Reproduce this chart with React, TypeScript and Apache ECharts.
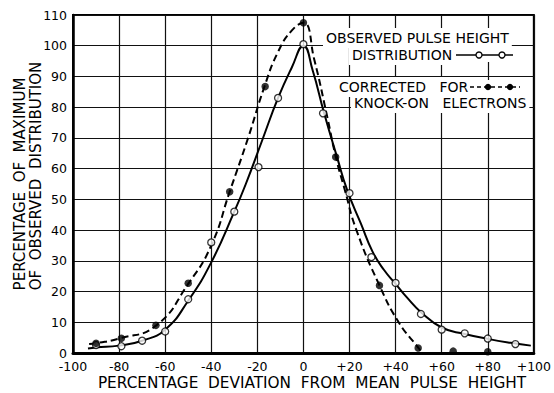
import React, { useEffect, useRef } from "react";
import * as echarts from "echarts";

// Observed pulse height distribution (open circles)
const observedX = [-90, -79, -70, -60, -50, -40, -30, -19.5, -11, 0, 8.5, 20, 29.5, 40, 51, 60, 70, 80, 92];
const observedY = [2.6, 2.2, 4, 7, 17.5, 36, 46, 60.5, 83, 100.5, 78, 52, 31.2, 22.8, 12.7, 7.6, 6.4, 4.7, 2.9];

// Corrected for knock-on electrons (filled circles)
const correctedX = [-90, -79, -64, -50, -32, -16.6, 0, 14, 33, 49.8, 65, 80];
const correctedY = [3.2, 4.8, 9, 22.7, 52.5, 86.7, 107.5, 63.8, 22, 1.6, 0.6, 0.4];

// Smooth solid curve (observed)
const solidCurveX = [-93.5, -90, -80, -70, -60, -50, -40, -30, -25, -18, -11, -5, 0, 4, 9, 14.5, 19, 25, 30, 35, 40, 45, 51, 60, 70, 80, 90, 98.7];
const solidCurveY = [1.5, 1.8, 2.4, 4, 7.6, 17, 29.5, 46, 55, 69, 83, 93, 100, 92, 78, 64, 53, 42, 33, 27, 22.5, 18, 13.3, 8.3, 6.2, 4.6, 3.3, 2.4];

// Dashed curve (corrected)
const dashedCurveX = [-93, -90, -80, -64, -50, -40, -32, -24, -17, -11, -5, 0, 4.7, 10.3, 14, 18, 23, 33, 41.6, 50, 51.5];
const dashedCurveY = [2.9, 3.2, 4.7, 8.9, 22.5, 35, 52.5, 70, 86.5, 98, 105, 107.5, 95.5, 77, 64, 53, 40, 22, 9.7, 1.6, 0];

const xTickLabels = ["-100", "-80", "-60", "-40", "-20", "0", "+20", "+40", "+60", "+80", "+100"];

const FONT = '"DejaVu Sans", sans-serif';

const zip = (xs: number[], ys: number[]) => xs.map((x, i) => [x, ys[i]]);

export default function App() {
  const ref = useRef<HTMLDivElement>(null);
  useEffect(() => {
    if (!ref.current) return;
    const chart = echarts.init(ref.current, undefined, { renderer: "svg" });
    const legendText = (text: string, x: number, y: number) => ({
      type: "text",
      z: 50,
      style: {
        text,
        x,
        y,
        font: `14px ${FONT}`,
        fill: "#000",
        align: "left",
        verticalAlign: "middle",
        backgroundColor: "#fff",
        padding: [3, 3],
      },
    });
    chart.setOption({
      animation: false,
      backgroundColor: "#fff",
      grid: {
        left: 73,
        right: 11,
        top: 15,
        bottom: 40,
        show: true,
        borderColor: "#000",
        borderWidth: 2,
      },
      xAxis: {
        type: "value",
        min: -100,
        max: 100,
        interval: 20,
        axisLine: { show: true, onZero: false, lineStyle: { color: "#000", width: 3 } },
        axisTick: { show: false },
        splitLine: { show: true, lineStyle: { color: "#111", width: 1.2 } },
        axisLabel: {
          color: "#000",
          fontSize: 12.5,
          fontFamily: FONT,
          margin: 7,
          lineHeight: 13,
          formatter: (v: number) => xTickLabels[Math.round((v + 100) / 20)] ?? String(v),
        },
      },
      yAxis: {
        type: "value",
        min: 0,
        max: 110,
        interval: 10,
        axisLine: { show: true, onZero: false, lineStyle: { color: "#000", width: 2.5 } },
        axisTick: { show: false },
        splitLine: { show: true, lineStyle: { color: "#111", width: 1.2 } },
        axisLabel: { color: "#000", fontSize: 12.5, fontFamily: FONT, margin: 6, lineHeight: 12 },
      },
      graphic: [
        legendText("OBSERVED PULSE HEIGHT", 323, 38),
        legendText("DISTRIBUTION", 349, 55),
        { type: "rect", z: 49, shape: { x: 453, y: 48, width: 62, height: 14 }, style: { fill: "#fff" } },
        { type: "line", z: 51, shape: { x1: 456, y1: 55, x2: 513, y2: 55 }, style: { stroke: "#000", lineWidth: 1.3 } },
        { type: "circle", z: 52, shape: { cx: 479, cy: 55, r: 3 }, style: { fill: "#fff", stroke: "#000", lineWidth: 1.3 } },
        { type: "circle", z: 52, shape: { cx: 502, cy: 55, r: 3 }, style: { fill: "#fff", stroke: "#000", lineWidth: 1.3 } },
        legendText("CORRECTED   FOR", 336, 87),
        { type: "rect", z: 49, shape: { x: 467, y: 80, width: 56, height: 14 }, style: { fill: "#fff" } },
        { type: "line", z: 51, shape: { x1: 470, y1: 87, x2: 520, y2: 87 }, style: { stroke: "#000", lineWidth: 1.5, lineDash: [4, 3] } },
        { type: "circle", z: 52, shape: { cx: 488, cy: 87, r: 3.2 }, style: { fill: "#000" } },
        { type: "circle", z: 52, shape: { cx: 510, cy: 87, r: 3.2 }, style: { fill: "#000" } },
        legendText("KNOCK-ON   ELECTRONS", 351, 103),
        {
          type: "text",
          x: 20,
          y: 184,
          rotation: Math.PI / 2,
          style: {
            text: "PERCENTAGE  OF  MAXIMUM",
            font: `15px ${FONT}`,
            fill: "#000",
            align: "center",
            verticalAlign: "middle",
          },
        },
        {
          type: "text",
          x: 36,
          y: 176,
          rotation: Math.PI / 2,
          style: {
            text: "OF  OBSERVED  DISTRIBUTION",
            font: `15px ${FONT}`,
            fill: "#000",
            align: "center",
            verticalAlign: "middle",
          },
        },
        {
          type: "text",
          x: 312,
          y: 383,
          style: {
            text: "PERCENTAGE  DEVIATION  FROM  MEAN  PULSE  HEIGHT",
            font: `15.3px ${FONT}`,
            fill: "#000",
            align: "center",
            verticalAlign: "middle",
          },
        },
      ],
      series: [
        {
          type: "line",
          data: zip(solidCurveX, solidCurveY),
          symbol: "none",
          smooth: 0.5,
          lineStyle: { color: "#000", width: 2 },
          z: 3,
        },
        {
          type: "line",
          data: zip(dashedCurveX, dashedCurveY),
          symbol: "none",
          smooth: 0.5,
          lineStyle: { color: "#000", width: 2, type: [7, 4] },
          z: 3,
        },
        {
          type: "scatter",
          data: zip(observedX, observedY),
          symbol: "circle",
          symbolSize: 7,
          itemStyle: { color: "#fff", borderColor: "#000", borderWidth: 1.3 },
          z: 5,
        },
        {
          type: "scatter",
          data: zip(correctedX, correctedY),
          symbol: "circle",
          symbolSize: 7.5,
          itemStyle: { color: "#000" },
          z: 6,
        },
      ],
    });
    return () => chart.dispose();
  }, []);
  return <div ref={ref} style={{ width: 554, height: 393, position: "absolute", left: 0, top: 0 }} />;
}
